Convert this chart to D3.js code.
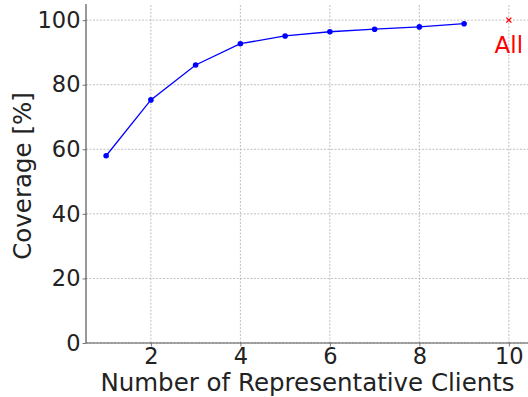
<!DOCTYPE html>
<html>
<head>
<meta charset="utf-8">
<script src="https://d3js.org/d3.v7.min.js"></script>
<style>
html, body { margin: 0; padding: 0; background: #fff; }
svg { display: block; font-family: 'DejaVu Sans', sans-serif; }
</style>
</head>
<body>
<script>
// data
var clients = [1, 2, 3, 4, 5, 6, 7, 8, 9];
var coverage = [58.0, 75.3, 86.1, 92.7, 95.1, 96.4, 97.2, 97.9, 98.9];
var allPoint = [10, 100];
var allLabel = "All";
var xTicks = [2, 4, 6, 8, 10];
var yTicks = [0, 20, 40, 60, 80, 100];

var W = 528, H = 397;
var m = {left: 86, top: 4, right: -1, bottom: 54};

var x = d3.scaleLinear().domain([0.55, 10.45]).range([m.left, W - m.right]);
var y = d3.scaleLinear().domain([0, 105]).range([H - m.bottom, m.top]);

var svg = d3.select("body").append("svg").attr("width", W).attr("height", H);

// grid
svg.append("g").selectAll("line").data(xTicks).enter().append("line")
  .attr("x1", function(d) { return x(d); }).attr("x2", function(d) { return x(d); })
  .attr("y1", y(0)).attr("y2", m.top)
  .attr("stroke", "#b0b0b0").attr("stroke-width", 0.8).attr("stroke-dasharray", "2,1.5");
svg.append("g").selectAll("line").data(yTicks).enter().append("line")
  .attr("x1", m.left).attr("x2", W)
  .attr("y1", function(d) { return y(d); }).attr("y2", function(d) { return y(d); })
  .attr("stroke", "#b0b0b0").attr("stroke-width", 0.8).attr("stroke-dasharray", "2,1.5");

// axes
var xAxis = svg.append("g").attr("transform", "translate(0," + y(0) + ")")
  .call(d3.axisBottom(x).tickValues(xTicks).tickSize(3.5).tickPadding(2));
var yAxis = svg.append("g").attr("transform", "translate(" + m.left + ",0)")
  .call(d3.axisLeft(y).tickValues(yTicks).tickSize(3.5).tickPadding(2));
[xAxis, yAxis].forEach(function(a) {
  a.select(".domain").attr("stroke", "#555").attr("stroke-width", 1.2);
  a.selectAll(".tick line").attr("stroke", "#555").attr("stroke-width", 0.8);
  a.selectAll("text").attr("font-family", "'DejaVu Sans', sans-serif")
    .attr("font-size", 22.5).attr("fill", "#222");
});
xAxis.select(".domain").attr("d", "M" + m.left + ",0H" + W);
yAxis.select(".domain").attr("d", "M0," + y(0) + "V" + m.top);

// line
var line = d3.line().x(function(d, i) { return x(clients[i]); }).y(function(d) { return y(d); });
svg.append("path").datum(coverage).attr("d", line)
  .attr("fill", "none").attr("stroke", "#0000ff").attr("stroke-width", 1.3);
svg.append("g").selectAll("circle").data(coverage).enter().append("circle")
  .attr("cx", function(d, i) { return x(clients[i]); })
  .attr("cy", function(d) { return y(d); })
  .attr("r", 2.8).attr("fill", "#0000ff");

// "All" marker
var ax = x(allPoint[0]), ay = y(allPoint[1]), s = 2.5;
svg.append("path")
  .attr("d", "M" + (ax - s) + "," + (ay - s) + "L" + (ax + s) + "," + (ay + s) +
             "M" + (ax - s) + "," + (ay + s) + "L" + (ax + s) + "," + (ay - s))
  .attr("stroke", "#ff0000").attr("stroke-width", 1.3);
svg.append("text").attr("x", ax).attr("y", ay + 32.5)
  .attr("text-anchor", "middle").attr("font-size", 23).attr("fill", "#ff0000")
  .text(allLabel);

// labels
svg.append("text").attr("x", 307.5).attr("y", H - 6.5)
  .attr("text-anchor", "middle").attr("font-size", 24.5).attr("fill", "#222")
  .text("Number of Representative Clients");
svg.append("text").attr("transform", "translate(31," + 176 + ") rotate(-90)")
  .attr("text-anchor", "middle").attr("font-size", 24.5).attr("fill", "#222")
  .text("Coverage [%]");
</script>
</body>
</html>
